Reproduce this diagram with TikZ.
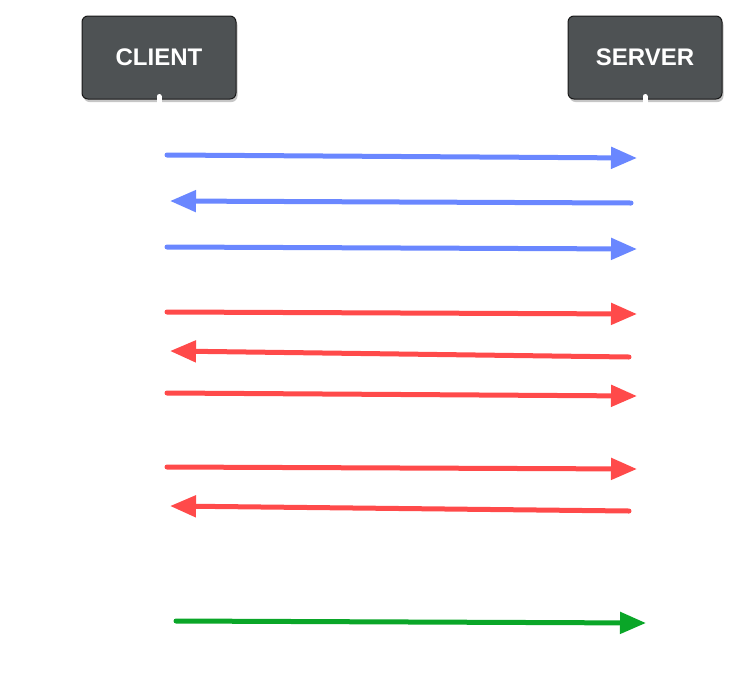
\documentclass[tikz,border=0pt]{standalone}
\usepackage{fontspec}
\setmainfont{Liberation Sans}
\usetikzlibrary{arrows.meta,shadows}
\definecolor{boxgray}{HTML}{4E5254}
\definecolor{msgblue}{HTML}{6A87FF}
\definecolor{msgred}{HTML}{FF4A4A}
\definecolor{msggreen}{HTML}{0AA628}
\tikzstyle{endpoint}=[rectangle,rounded corners=6pt,fill=boxgray,draw=black!90,line width=1pt,
  minimum width=154pt,minimum height=83pt,text=white,font=\bfseries\fontsize{24}{27}\selectfont,
  drop shadow={shadow xshift=1.5pt,shadow yshift=-3pt,opacity=0.45}]
\tikzstyle{stub}=[draw=white,line width=5pt,line cap=round]
\tikzstyle{msg}=[draw,line width=5pt,line cap=round,-{Triangle[length=26pt,width=21pt]}]

\begin{document}
\begin{tikzpicture}[x=1pt,y=-1pt]
    \useasboundingbox (0,0) rectangle (741,691);
    \node[endpoint] (client) at (159,57.5) {CLIENT};
    \node[endpoint] (server) at (645,57.5) {SERVER};
    \draw[stub] (client.south) ++(0,-3) -- ++(0,8);
    \draw[stub] (server.south) ++(0,-3) -- ++(0,8);

    \foreach \i/\xa/\ya/\xb/\yb/\col in {1/167/155/637/158/msgblue, 2/631/203/170/201/msgblue,
    3/167/247/637/249/msgblue, 4/167/312/637/314/msgred, 5/629/357/170/351/msgred,
    6/167/393/637/396/msgred, 7/167/467/637/469/msgred, 8/629/511/170/506/msgred,
    9/176/621/646/623/msggreen}
    {
        \coordinate (m\i a) at (\xa,\ya);
        \coordinate (m\i b) at (\xb,\yb);
        \path[msg,draw=\col] (m\i a) -- (m\i b);
    }
\end{tikzpicture}
\end{document}
